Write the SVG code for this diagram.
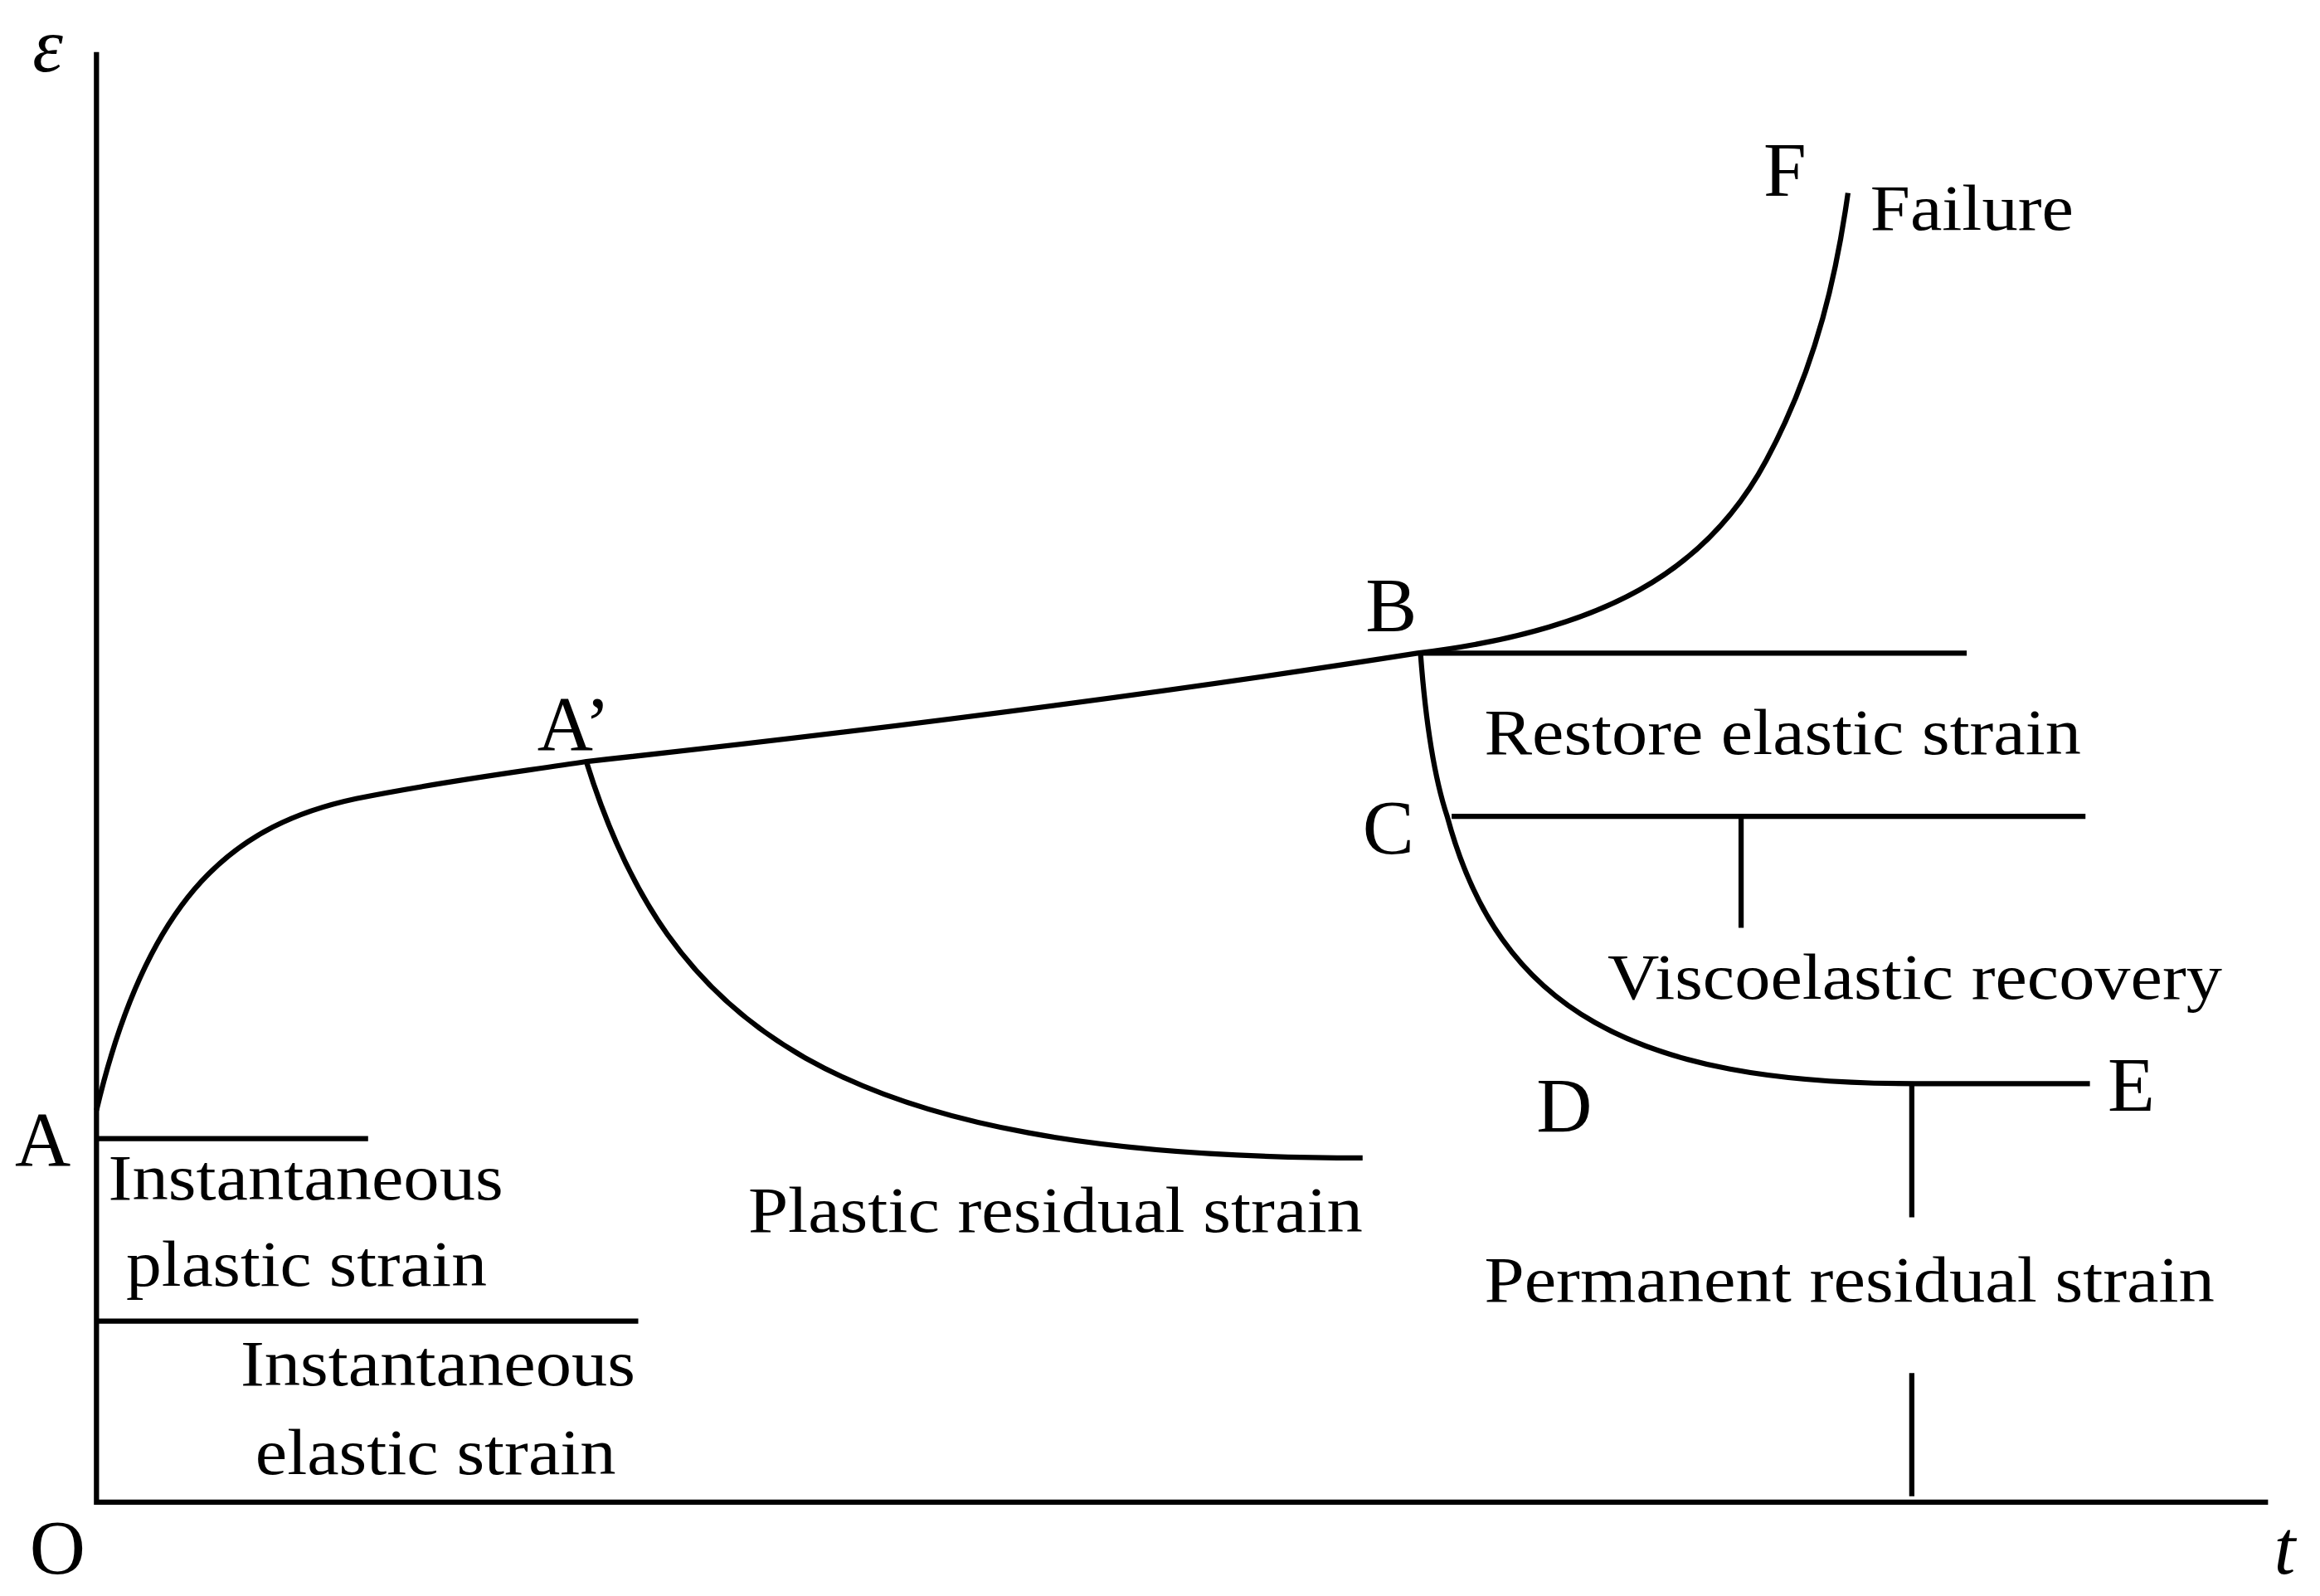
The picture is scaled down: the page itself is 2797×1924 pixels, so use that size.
<svg xmlns="http://www.w3.org/2000/svg" width="2797" height="1924" viewBox="0 0 2797 1924">
<style>
.l{fill:none;stroke:#000;stroke-width:3.5}
.t{font-family:"Liberation Serif",serif;font-size:44px;fill:#000}
.p{font-family:"Liberation Serif",serif;font-size:52px;fill:#000}
</style>
<rect width="2797" height="1924" fill="#fff"/>
<g transform="scale(1.7895)">
<g id="connectors">
<path class="l" d="M65,35 V1012 H1528"/>
<path class="l" d="M65,748 C100,600 160,555 240,538 C300,526 350,520 395,513 Q700,480 955,440 C1080,425 1150,385 1190,310 C1225,245 1238,180 1245,130"/>
<path class="l" d="M395,513 C450,690 560,780 918,780"/>
<path class="l" d="M957,440 C960,480 965,520 975,550 C1010,680 1100,730 1290,730 L1408,730"/>
<path class="l" d="M957,440 H1325 M978,550 H1405 M1173,550 V625 M1288,730 V820 M1288,925 V1008 M65,767 H248 M65,890 H430"/>
</g>
<g id="labels">
<text class="p" x="22" y="48" font-style="italic">ε</text>
<text class="p" x="20" y="1060">O</text>
<text class="p" x="1532" y="1060" font-style="italic">t</text>
<text class="p" x="10" y="785">A</text>
<text class="p" x="362" y="505">A’</text>
<text class="p" x="920" y="425">B</text>
<text class="p" x="918" y="575">C</text>
<text class="p" x="1035" y="762">D</text>
<text class="p" x="1420" y="748">E</text>
<text class="p" x="1188" y="132">F</text>
<text class="t" x="1260" y="155" textLength="137" lengthAdjust="spacingAndGlyphs">Failure</text>
<text class="t" x="1000" y="508" textLength="402" lengthAdjust="spacingAndGlyphs">Restore elastic strain</text>
<text class="t" x="1083" y="673" textLength="414" lengthAdjust="spacingAndGlyphs">Viscoelastic recovery</text>
<text class="t" x="1000" y="877" textLength="492" lengthAdjust="spacingAndGlyphs">Permanent residual strain</text>
<text class="t" x="504" y="830" textLength="414" lengthAdjust="spacingAndGlyphs">Plastic residual strain</text>
<text class="t" x="73" y="808" textLength="266" lengthAdjust="spacingAndGlyphs">Instantaneous</text>
<text class="t" x="85" y="866" textLength="243" lengthAdjust="spacingAndGlyphs">plastic strain</text>
<text class="t" x="162" y="933" textLength="266" lengthAdjust="spacingAndGlyphs">Instantaneous</text>
<text class="t" x="172" y="993" textLength="243" lengthAdjust="spacingAndGlyphs">elastic strain</text>
</g>
</g>
</svg>
